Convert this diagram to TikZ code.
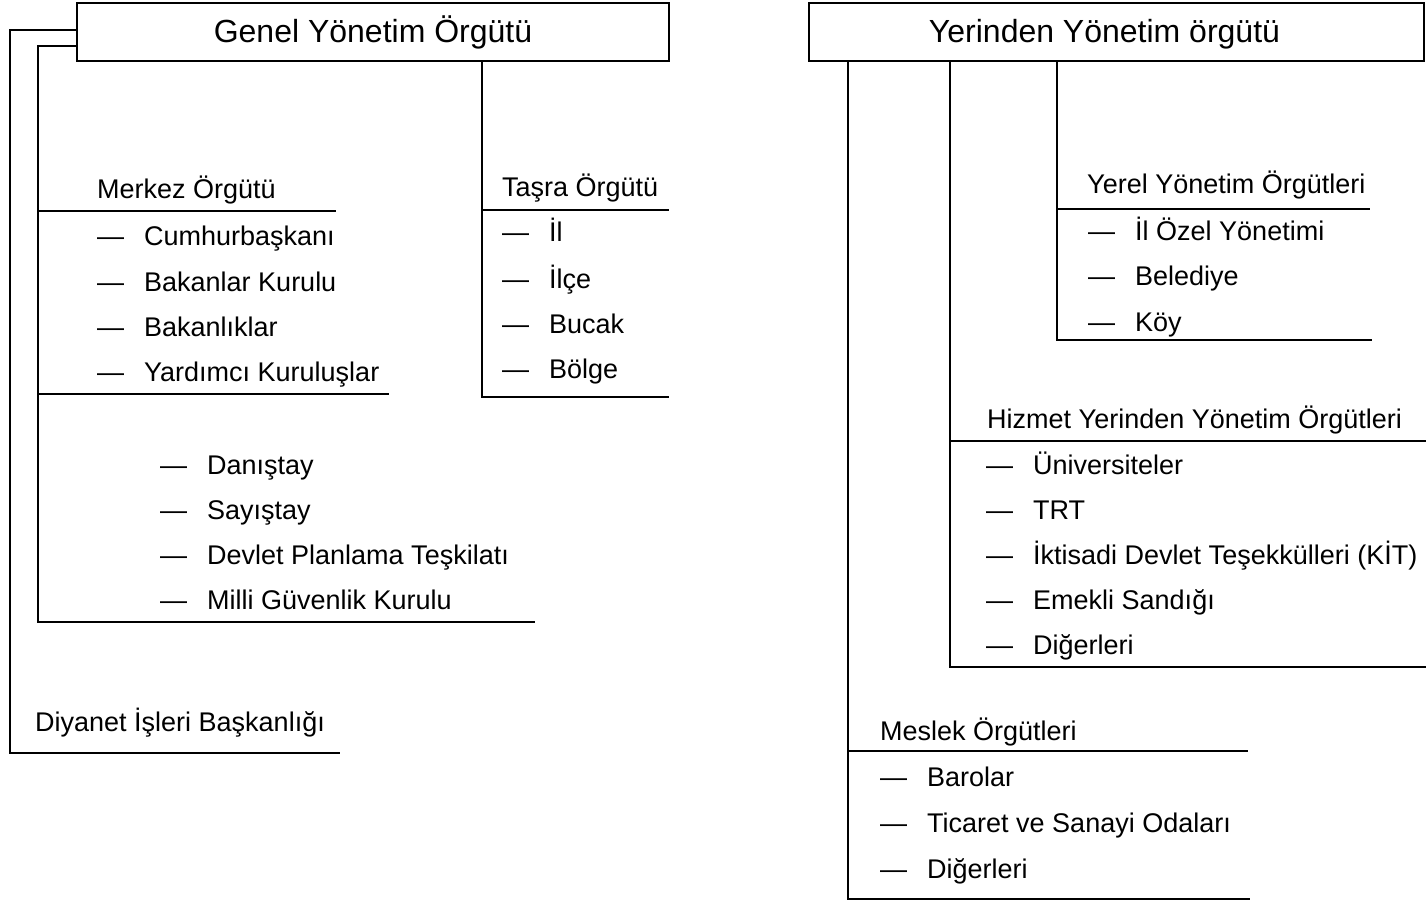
\documentclass[tikz,border=0pt]{standalone}
\usepackage{fontspec}
\setmainfont{Liberation Sans}
\newcommand\itemdash{\makebox[47pt][l]{—}}
\begin{document}
\begin{tikzpicture}[x=1pt,y=-1pt,
  conn/.style={line width=2.4pt},
  titlebox/.style={draw,line width=2.4pt,inner sep=0pt,text height=29pt,text depth=7pt,font=\fontsize{32pt}{38pt}\selectfont},
  hdr/.style={anchor=base west,inner sep=0pt,font=\fontsize{27pt}{32pt}\selectfont},
  itm/.style={anchor=base west,inner sep=0pt,font=\fontsize{27pt}{32pt}\selectfont}]
\useasboundingbox (0,0) rectangle (1426,901);

% ---------- Left: Genel Yönetim Örgütü ----------
\node[titlebox,minimum width=592pt,minimum height=58pt] (genel) at (373,32) {Genel Yönetim Örgütü};

\node[hdr] (merkez) at (97,199) {Merkez Örgütü};
\node[itm] (m1) at (97,246) {\itemdash Cumhurbaşkanı};
\node[itm] (m2) at (97,291) {\itemdash Bakanlar Kurulu};
\node[itm] (m3) at (97,336) {\itemdash Bakanlıklar};
\node[itm] (m4) at (97,381) {\itemdash Yardımcı Kuruluşlar};

\node[hdr] (tasra) at (502,197) {Taşra Örgütü};
\node[itm] (t1) at (502,242) {\itemdash İl};
\node[itm] (t2) at (502,288) {\itemdash İlçe};
\node[itm] (t3) at (502,333) {\itemdash Bucak};
\node[itm] (t4) at (502,378) {\itemdash Bölge};

\node[itm] (d1) at (160,474) {\itemdash Danıştay};
\node[itm] (d2) at (160,519) {\itemdash Sayıştay};
\node[itm] (d3) at (160,564) {\itemdash Devlet Planlama Teşkilatı};
\node[itm] (d4) at (160,609) {\itemdash Milli Güvenlik Kurulu};

\node[hdr] (diyanet) at (35,731) {Diyanet İşleri Başkanlığı};

% connectors left
\coordinate (oc1) at (10,753);
\coordinate (oc2) at (340,753);
\draw[conn] ([yshift=2pt]genel.west) -| (oc1) -- (oc2);

\coordinate (ic1) at (38,622);
\coordinate (ic2) at (535,622);
\draw[conn] ([yshift=-14pt]genel.west) -| (ic1) -- (ic2);
\coordinate (mu1) at (38,211);
\coordinate (mu2) at (336,211);
\draw[conn] (mu1) -- (mu2);
\coordinate (mb1) at (38,394);
\coordinate (mb2) at (389,394);
\draw[conn] (mb1) -- (mb2);

\coordinate (tc1) at (482,397);
\coordinate (tc2) at (669,397);
\coordinate (tu1) at (482,210);
\coordinate (tu2) at (669,210);
\draw[conn] (genel.south -| tc1) -- (tc1) -- (tc2);
\draw[conn] (tu1) -- (tu2);

% ---------- Right: Yerinden Yönetim örgütü ----------
\node[titlebox,minimum width=615pt,minimum height=58pt] (yerinden) at (1116.5,32) {\hspace*{-24pt}Yerinden Yönetim örgütü};

\node[hdr] (yerel) at (1087,194) {Yerel Yönetim Örgütleri};
\node[itm] (y1) at (1088,241) {\itemdash İl Özel Yönetimi};
\node[itm] (y2) at (1088,286) {\itemdash Belediye};
\node[itm] (y3) at (1088,331) {\itemdash Köy};

\node[hdr] (hizmet) at (987,428) {Hizmet Yerinden Yönetim Örgütleri};
\node[itm] (h1) at (986,474) {\itemdash Üniversiteler};
\node[itm] (h2) at (986,519) {\itemdash TRT};
\node[itm] (h3) at (986,564) {\itemdash İktisadi Devlet Teşekkülleri (KİT)};
\node[itm] (h4) at (986,609) {\itemdash Emekli Sandığı};
\node[itm] (h5) at (986,654) {\itemdash Diğerleri};

\node[hdr] (meslek) at (880,740) {Meslek Örgütleri};
\node[itm] (s1) at (880,786) {\itemdash Barolar};
\node[itm] (s2) at (880,832) {\itemdash Ticaret ve Sanayi Odaları};
\node[itm] (s3) at (880,878) {\itemdash Diğerleri};

% connectors right
\coordinate (yc1) at (1057,340);
\coordinate (yc2) at (1372,340);
\coordinate (yu1) at (1057,209);
\coordinate (yu2) at (1370,209);
\draw[conn] (yerinden.south -| yc1) -- (yc1) -- (yc2);
\draw[conn] (yu1) -- (yu2);

\coordinate (hc1) at (950,667);
\coordinate (hc2) at (1426,667);
\coordinate (hu1) at (950,441);
\coordinate (hu2) at (1426,441);
\draw[conn] (yerinden.south -| hc1) -- (hc1) -- (hc2);
\draw[conn] (hu1) -- (hu2);

\coordinate (sc1) at (848,899);
\coordinate (sc2) at (1250,899);
\coordinate (su1) at (848,751);
\coordinate (su2) at (1248,751);
\draw[conn] (yerinden.south -| sc1) -- (sc1) -- (sc2);
\draw[conn] (su1) -- (su2);
\end{tikzpicture}
\end{document}
